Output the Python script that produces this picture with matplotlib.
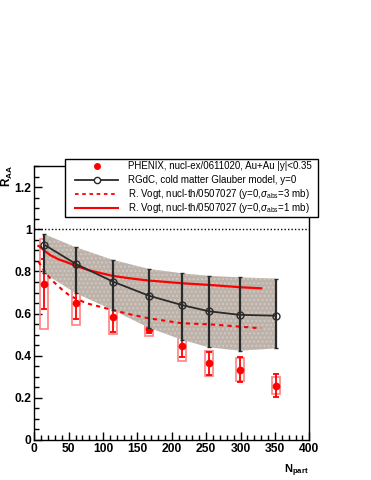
import matplotlib
matplotlib.use("Agg")
import matplotlib.pyplot as plt
from matplotlib.lines import Line2D
from matplotlib.patches import Rectangle
from matplotlib.ticker import MultipleLocator
import numpy as np

plt.rcParams['font.family'] = ['Liberation Sans', 'DejaVu Sans']
plt.rcParams['mathtext.fontset'] = 'custom'
plt.rcParams['mathtext.rm'] = 'Liberation Sans'
plt.rcParams['mathtext.it'] = 'Liberation Sans:italic'
plt.rcParams['mathtext.bf'] = 'Liberation Sans:bold'

# PHENIX Au+Au data
phx_npart = [14.5, 60.2, 114.2, 166.6, 215.3, 253.9, 299.0, 351.4]
phx_raa = [0.74, 0.65, 0.584, 0.525, 0.445, 0.364, 0.334, 0.258]
phx_stat = [0.12, 0.075, 0.072, 0.018, 0.05, 0.055, 0.06, 0.053]
phx_syst = [0.215, 0.104, 0.082, 0.031, 0.068, 0.06, 0.053, 0.041]

# RGdC cold matter Glauber model
rg_npart = [14.5, 60.2, 114.2, 166.6, 215.3, 253.9, 299.0, 351.4]
rg_raa = [0.927, 0.836, 0.752, 0.685, 0.64, 0.611, 0.594, 0.59]
rg_hi = [0.977, 0.915, 0.855, 0.812, 0.791, 0.779, 0.772, 0.766]
rg_lo = [0.791, 0.697, 0.617, 0.533, 0.475, 0.44, 0.424, 0.435]

# R. Vogt curves
v1_npart = [6, 8, 15, 23, 35, 47, 61, 80, 114, 140, 166, 215, 255, 300, 330]
v1_raa = [0.921, 0.918, 0.898, 0.878, 0.858, 0.844, 0.826, 0.805, 0.779, 0.767, 0.757, 0.744, 0.736, 0.725, 0.72]
v3_npart = [6, 15, 25, 40, 52, 76, 114, 140, 166, 215, 255, 300, 330]
v3_raa = [0.847, 0.80, 0.76, 0.715, 0.684, 0.649, 0.617, 0.596, 0.578, 0.554, 0.549, 0.538, 0.53]

W, H = 371, 480
fig = plt.figure(figsize=(W / 100, H / 100), dpi=100)
ax = fig.add_axes([34.3 / W, 1 - 440 / H, 275 / W, 274.3 / H])

red = '#ff0000'
box_red = '#ff8080'

# PHENIX systematic boxes + stat bars
for x, y, st, sy in zip(phx_npart, phx_raa, phx_stat, phx_syst):
    ax.add_patch(Rectangle((x - 6, y - sy), 12, 2 * sy, fill=False,
                           edgecolor=box_red, lw=1.2, zorder=2))
ax.errorbar(phx_npart, phx_raa, yerr=phx_stat, fmt='o', color=red, ms=4.5,
            elinewidth=1.3, capsize=2.5, capthick=1.3, zorder=3)

# model band
ax.fill_between(rg_npart, rg_lo, rg_hi, facecolor='#bcb2a9', edgecolor='#d0c9c2',
                hatch='....', lw=0, zorder=4)

# Vogt curves
ax.plot(v3_npart, v3_raa, color=red, lw=1.5, ls=(0, (2, 2)), zorder=5)
ax.plot(v1_npart, v1_raa, color=red, lw=1.6, zorder=5)

# RGdC points with error bars
rg_raa_a = np.array(rg_raa)
yerr = [rg_raa_a - np.array(rg_lo), np.array(rg_hi) - rg_raa_a]
ax.errorbar(rg_npart, rg_raa, yerr=yerr, color='#2a2a2a', lw=1.3, elinewidth=1.6,
            capsize=1.5, marker='o', ms=5, mfc='none', mec='#2a2a2a', mew=1.0, zorder=6)

# dotted unity line
ax.axhline(1.0, color='black', lw=1.0, ls=(0, (1, 1.5)), zorder=1)

ax.set_xlim(0, 400)
ax.set_ylim(0, 1.302)
ax.xaxis.set_minor_locator(MultipleLocator(10))
ax.yaxis.set_minor_locator(MultipleLocator(0.05))
ax.set_xticks([0, 50, 100, 150, 200, 250, 300, 350, 400])
ax.set_xticklabels(['0', '50', '100', '150', '200', '250', '300', '350', '400'])
ax.set_yticks([0, 0.2, 0.4, 0.6, 0.8, 1.0, 1.2])
ax.set_yticklabels(['0', '0.2', '0.4', '0.6', '0.8', '1', '1.2'])
ax.tick_params(axis='both', which='both', direction='in', top=False, right=False)
ax.tick_params(axis='x', which='major', length=6, width=1, pad=2)
ax.tick_params(axis='x', which='minor', length=3.5, width=1)
ax.tick_params(axis='y', which='major', length=6, width=1, pad=2)
ax.tick_params(axis='y', which='minor', length=3.5, width=1)
for lab in ax.get_xticklabels() + ax.get_yticklabels():
    lab.set_fontsize(8.7)
    lab.set_fontweight('bold')
for s in ax.spines.values():
    s.set_linewidth(1.0)

ax.text(-0.098, 1.003, r'$\mathbf{R}_{\mathbf{AA}}$', transform=ax.transAxes,
        rotation=90, ha='center', va='top', fontsize=8.5)
ax.text(1.0, -0.082, r'$\mathbf{N}_{\mathbf{part}}$', transform=ax.transAxes,
        ha='right', va='top', fontsize=8)

# legend drawn by hand in pixel coords
def fx(px):
    return px / W

def fy(py):
    return 1 - py / H

fig.patches.append(Rectangle((fx(65), fy(217)), fx(318) - fx(65), (217 - 159) / H,
                             transform=fig.transFigure, facecolor='white',
                             edgecolor='black', lw=1.0, zorder=10))
rows = [166, 180, 194, 208]
labels = ['PHENIX, nucl-ex/0611020, Au+Au |y|<0.35',
          'RGdC, cold matter Glauber model, y=0',
          r'R. Vogt, nucl-th/0507027 (y=0,$\sigma_{\rm abs}$=3 mb)',
          r'R. Vogt, nucl-th/0507027 (y=0,$\sigma_{\rm abs}$=1 mb)']
fig.lines.append(Line2D([fx(96.7)], [fy(rows[0])], transform=fig.transFigure,
                        marker='o', ms=4, color=red, ls='none', zorder=11))
fig.lines.append(Line2D([fx(75), fx(96.7), fx(118)], [fy(rows[1])] * 3,
                        transform=fig.transFigure, color='#2a2a2a', lw=1.3,
                        marker='o', ms=4.5, mfc='white', mec='#2a2a2a',
                        markevery=[1], zorder=11))
fig.lines.append(Line2D([fx(75), fx(118)], [fy(rows[2])] * 2, transform=fig.transFigure,
                        color=red, lw=1.3, ls=(0, (2, 2)), zorder=11))
fig.lines.append(Line2D([fx(75), fx(118)], [fy(rows[3])] * 2, transform=fig.transFigure,
                        color=red, lw=1.5, zorder=11))
for r, t in zip(rows, labels):
    fig.text(fx(128.5), fy(r), t, fontsize=7, ha='left', va='center', zorder=12)

fig.savefig('out.png', dpi=100, facecolor='white')
